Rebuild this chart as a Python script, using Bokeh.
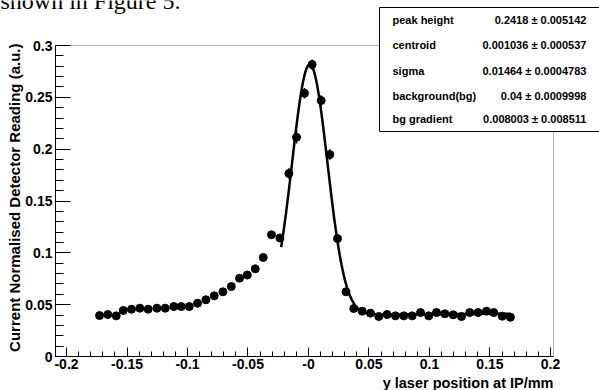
import numpy as np
from bokeh.plotting import figure
from bokeh.models import Range1d, FixedTicker, Label, BoxAnnotation, ColumnDataSource
from bokeh.embed import file_html
from bokeh.resources import INLINE

# ---------------- data ----------------
x_pos = [-0.1727, -0.1659, -0.1589, -0.1531, -0.1463, -0.1394, -0.1325, -0.1253, -0.1184, -0.1113,
         -0.1052, -0.0985, -0.0917, -0.0848, -0.0779, -0.0707, -0.0638, -0.0570, -0.0506, -0.0440,
         -0.0374, -0.0306, -0.0236, -0.0162, -0.0099, -0.0033, 0.0030, 0.0105, 0.0176, 0.0240,
         0.0310, 0.0374, 0.0444, 0.0512, 0.0581, 0.0650, 0.0719, 0.0788, 0.0857, 0.0926,
         0.0994, 0.1058, 0.1127, 0.1196, 0.1264, 0.1333, 0.1402, 0.1471, 0.1531, 0.1601, 0.1669]
y_val = [0.0395, 0.0405, 0.0392, 0.0444, 0.0456, 0.0466, 0.0456, 0.0466, 0.0466, 0.0482,
         0.0482, 0.0482, 0.0514, 0.0547, 0.0585, 0.0624, 0.0675, 0.0755, 0.0786, 0.0846,
         0.0955, 0.1174, 0.1143, 0.1765, 0.2115, 0.2539, 0.2816, 0.2469, 0.1948, 0.1138,
         0.0624, 0.0463, 0.0437, 0.0418, 0.0386, 0.0405, 0.0392, 0.0392, 0.0392, 0.0424,
         0.0392, 0.0424, 0.0412, 0.0402, 0.0386, 0.0424, 0.0424, 0.0437, 0.0424, 0.0389, 0.0379]
y_err = [0.002, 0.002, 0.002, 0.002, 0.002, 0.002, 0.002, 0.002, 0.002, 0.002,
         0.002, 0.002, 0.002, 0.002, 0.002, 0.002, 0.002, 0.002, 0.002, 0.002,
         0.003, 0.003, 0.004, 0.005, 0.006, 0.005, 0.005, 0.005, 0.005, 0.004,
         0.003, 0.002, 0.002, 0.002, 0.002, 0.002, 0.002, 0.002, 0.002, 0.002,
         0.002, 0.002, 0.002, 0.002, 0.002, 0.002, 0.002, 0.002, 0.002, 0.002, 0.002]

x_ticks = [-0.2, -0.15, -0.1, -0.05, 0, 0.05, 0.1, 0.15, 0.2]
x_tick_labels = ["-0.2", "-0.15", "-0.1", "-0.05", "-0", "0.05", "0.1", "0.15", "0.2"]
y_ticks = [0, 0.05, 0.1, 0.15, 0.2, 0.25, 0.3]
y_tick_labels = ["0", "0.05", "0.1", "0.15", "0.2", "0.25", "0.3"]

fit_names = ["peak height", "centroid", "sigma", "background(bg)", "bg gradient"]
fit_values = [0.2418, 0.001036, 0.01464, 0.04, 0.008003]
fit_errors = [0.005142, 0.000537, 0.0004783, 0.0009998, 0.008511]
fit_range = [-0.0226, 0.1669]

x_title = "y laser position at IP/mm"
y_title = "Current Normalised Detector Reading (a.u.)"
page_text = "shown in Figure 5."

# ---------------- layout ----------------
W, H = 599, 390
FL, FR, FT, FB = 55, 553, 45, 356     # axes box edges in pixels
X0, X1 = -0.2091, 0.2025              # axis extents
Y0, Y1 = 0.0, 0.3


def px2x(px):
    return X0 + (px - FL) / (FR - FL) * (X1 - X0)


def py2y(py):
    return Y1 - (py - FT) / (FB - FT) * (Y1 - Y0)


FONT = "Liberation Sans"

# the plotting frame covers the whole canvas; axes are pinned at the box edges
p = figure(width=W, height=H, output_backend="svg", toolbar_location=None,
           x_range=Range1d(px2x(0), px2x(W)), y_range=Range1d(py2y(H), py2y(0)),
           min_border=0)
p.background_fill_color = "white"
p.border_fill_color = "white"
p.outline_line_color = None
p.xgrid.visible = False
p.ygrid.visible = False

# axes
p.xaxis.fixed_location = Y0
p.yaxis.fixed_location = X0
p.xaxis.bounds = (X0, X1)
p.yaxis.bounds = (Y0, Y1)
p.xaxis.ticker = FixedTicker(ticks=x_ticks,
                             minor_ticks=[round(v, 3) for v in np.arange(-0.20, 0.2001, 0.01)])
p.yaxis.ticker = FixedTicker(ticks=y_ticks,
                             minor_ticks=[round(v, 3) for v in np.arange(0, 0.3001, 0.01)])
p.xaxis.major_label_overrides = {t: s for t, s in zip(x_ticks, x_tick_labels)}
p.yaxis.major_label_overrides = {t: s for t, s in zip(y_ticks, y_tick_labels)}
for ax in (p.xaxis[0], p.yaxis[0]):
    ax.axis_line_color = "black"
    ax.axis_line_width = 1
    ax.major_tick_line_color = "black"
    ax.minor_tick_line_color = "black"
    ax.major_tick_out = 0
    ax.minor_tick_out = 0
    ax.major_label_text_font = FONT
    ax.major_label_text_font_style = "bold"
    ax.major_label_text_font_size = "14px"
    ax.major_label_text_color = "black"
p.xaxis.major_tick_in = 9
p.xaxis.minor_tick_in = 5
p.xaxis.major_label_standoff = 2
p.yaxis.major_tick_in = 15
p.yaxis.minor_tick_in = 8
p.yaxis.major_label_standoff = 3

# frame box (top and right edges)
p.add_layout(BoxAnnotation(left=X0, right=X1, bottom=Y0, top=Y1, fill_alpha=0,
                           line_color="black", line_width=1, level="annotation"))

# data points with error bars
src = ColumnDataSource(dict(x=x_pos, y=y_val,
                            lo=[v - e for v, e in zip(y_val, y_err)],
                            hi=[v + e for v, e in zip(y_val, y_err)]))
p.segment(x0="x", y0="lo", x1="x", y1="hi", source=src, line_color="black", line_width=1.5)
p.scatter(x="x", y="y", source=src, size=8, marker="circle",
          fill_color="black", line_color="black")

# fit curve: gaussian + linear background with the fitted parameters
h, c, s, bg, grad = fit_values
xf = np.linspace(fit_range[0], fit_range[1], 400)
yf = bg + grad * xf + h * np.exp(-0.5 * ((xf - c) / s) ** 2)
p.line(xf, yf, line_color="black", line_width=2.5)

# axis titles
p.add_layout(Label(x=px2x(553), y=py2y(382), text=x_title, text_align="right",
                   text_baseline="middle", text_font=FONT, text_font_style="bold",
                   text_font_size="14.5px", text_color="black"))
p.add_layout(Label(x=px2x(14), y=py2y(43), text=y_title, angle=np.pi / 2,
                   text_align="right", text_baseline="middle", text_font=FONT,
                   text_font_style="bold", text_font_size="15px", text_color="black"))

# fragment of the surrounding page text, cut by the top edge as in the source
p.add_layout(Label(x=px2x(0), y=py2y(0), text=page_text, text_align="left",
                   text_baseline="alphabetic", text_font="Liberation Serif",
                   text_font_size="24px", text_color="black"))

# stats box
p.add_layout(BoxAnnotation(left=px2x(379), right=px2x(602), top=py2y(7), bottom=py2y(131),
                           fill_color="white", fill_alpha=1.0, line_color="black",
                           line_width=1, line_alpha=1.0, level="overlay"))
row_y = [19, 44.5, 70, 95.5, 118]
for name, val, err, ry in zip(fit_names, fit_values, fit_errors, row_y):
    p.add_layout(Label(x=px2x(392), y=py2y(ry), text=name, text_align="left",
                       text_baseline="middle", text_font=FONT, text_font_style="bold",
                       text_font_size="11px", text_color="black", level="overlay"))
    p.add_layout(Label(x=px2x(592), y=py2y(ry), text=f"{val}  \u00b1  {err}",
                       text_align="right", text_baseline="middle", text_font=FONT,
                       text_font_style="bold", text_font_size="11px", text_color="black",
                       level="overlay"))

open("out.html", "w").write(file_html(p, INLINE))
